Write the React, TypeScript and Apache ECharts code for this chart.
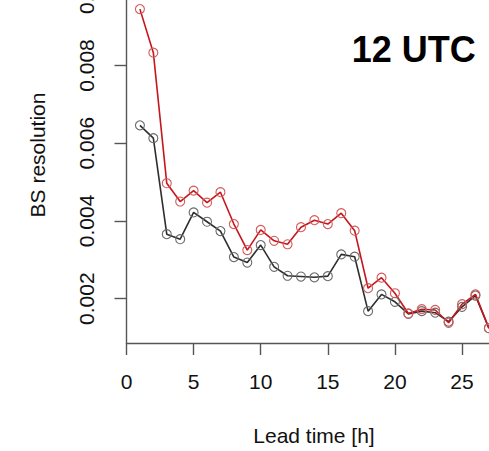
import React, { useEffect, useRef } from "react";
import * as echarts from "echarts";

// Lead times in hours
const leadTimes = [
  1, 2, 3, 4, 5, 6, 7, 8, 9, 10, 11, 12, 13, 14, 15, 16, 17, 18, 19, 20, 21, 22,
  23, 24, 25, 26, 27,
];

// BS resolution, red run
const redSeries = [
  0.00945, 0.00833, 0.00497, 0.0045, 0.00478, 0.00447, 0.00474, 0.00392,
  0.00325, 0.00377, 0.00349, 0.0034, 0.00384, 0.00402, 0.00392, 0.0042,
  0.00375, 0.00227, 0.00254, 0.00214, 0.00162, 0.00173, 0.00171, 0.00138,
  0.00186, 0.00211, 0.00124,
];

// BS resolution, black run
const blackSeries = [
  0.00646, 0.00613, 0.00366, 0.00353, 0.00422, 0.00398, 0.00374, 0.00307,
  0.00293, 0.00338, 0.00282, 0.00259, 0.00257, 0.00255, 0.00258, 0.00314,
  0.00308, 0.00168, 0.00211, 0.00192, 0.00161, 0.00168, 0.00164, 0.00141,
  0.00179, 0.00208, 0.00124,
];

const yTicks = [0.002, 0.004, 0.006, 0.008, 0.01];

const FONT = "'Liberation Sans', Arial, Helvetica, sans-serif";

export default function App() {
  const ref = useRef<HTMLDivElement>(null);

  useEffect(() => {
    if (!ref.current) return;
    const chart = echarts.init(ref.current, null, { renderer: "svg" });

    const pair = (vals: number[]) => leadTimes.map((t, i) => [t, vals[i]]);

    const lineSeries = (name: string, vals: number[], line: string, ring: string) => ({
      name,
      type: "line",
      data: pair(vals),
      symbol: "circle",
      symbolSize: 9,
      showAllSymbol: true,
      lineStyle: { color: line, width: 1.6 },
      itemStyle: { color: "rgba(255,255,255,0)", borderColor: ring, borderWidth: 1.1 },
      emphasis: { disabled: true },
      clip: false,
    });

    chart.setOption({
      animation: false,
      backgroundColor: "#ffffff",
      grid: {
        left: 126.5,
        right: -13.3,
        top: -31.7,
        bottom: 108,
        containLabel: false,
        outerBoundsMode: "none",
      },
      xAxis: {
        type: "value",
        min: 0,
        max: 28,
        interval: 5,
        axisLine: { onZero: false, lineStyle: { color: "#555555", width: 1.4 } },
        axisTick: { inside: false, length: 12, lineStyle: { color: "#555555", width: 1.4 } },
        axisLabel: {
          margin: 28,
          fontSize: 21,
          fontFamily: FONT,
          color: "#111111",
          showMaxLabel: false,
        },
        splitLine: { show: false },
      },
      yAxis: {
        type: "value",
        min: 0.00086,
        max: 0.0105,
        axisLine: { onZero: false, lineStyle: { color: "#555555", width: 1.4 } },
        axisTick: {
          inside: false,
          length: 12,
          customValues: yTicks,
          lineStyle: { color: "#555555", width: 1.4 },
        },
        axisLabel: {
          customValues: yTicks,
          rotate: 90,
          margin: 30,
          fontSize: 21,
          fontFamily: FONT,
          color: "#111111",
          formatter: (v: number) => v.toFixed(3),
        },
        splitLine: { show: false },
      },
      graphic: [
        {
          type: "text",
          x: 413.7,
          y: 49,
          style: {
            text: "12 UTC",
            font: `bold 36px ${FONT}`,
            fill: "#000000",
            textAlign: "center",
            textVerticalAlign: "middle",
          },
        },
        {
          type: "text",
          x: 314,
          y: 435,
          style: {
            text: "Lead time [h]",
            font: `21px ${FONT}`,
            fill: "#111111",
            textAlign: "center",
            textVerticalAlign: "middle",
          },
        },
        {
          type: "text",
          x: 37,
          y: 155,
          rotation: Math.PI / 2,
          style: {
            text: "BS resolution",
            font: `21px ${FONT}`,
            fill: "#111111",
            textAlign: "center",
            textVerticalAlign: "middle",
          },
        },
      ],
      series: [
        lineSeries("black", blackSeries, "#2e2e2e", "#6a6a6a"),
        lineSeries("red", redSeries, "#c4161c", "#d55a5a"),
      ],
    });

    return () => chart.dispose();
  }, []);

  return (
    <div
      ref={ref}
      style={{ position: "fixed", left: 0, top: 0, width: 489, height: 451 }}
    />
  );
}
